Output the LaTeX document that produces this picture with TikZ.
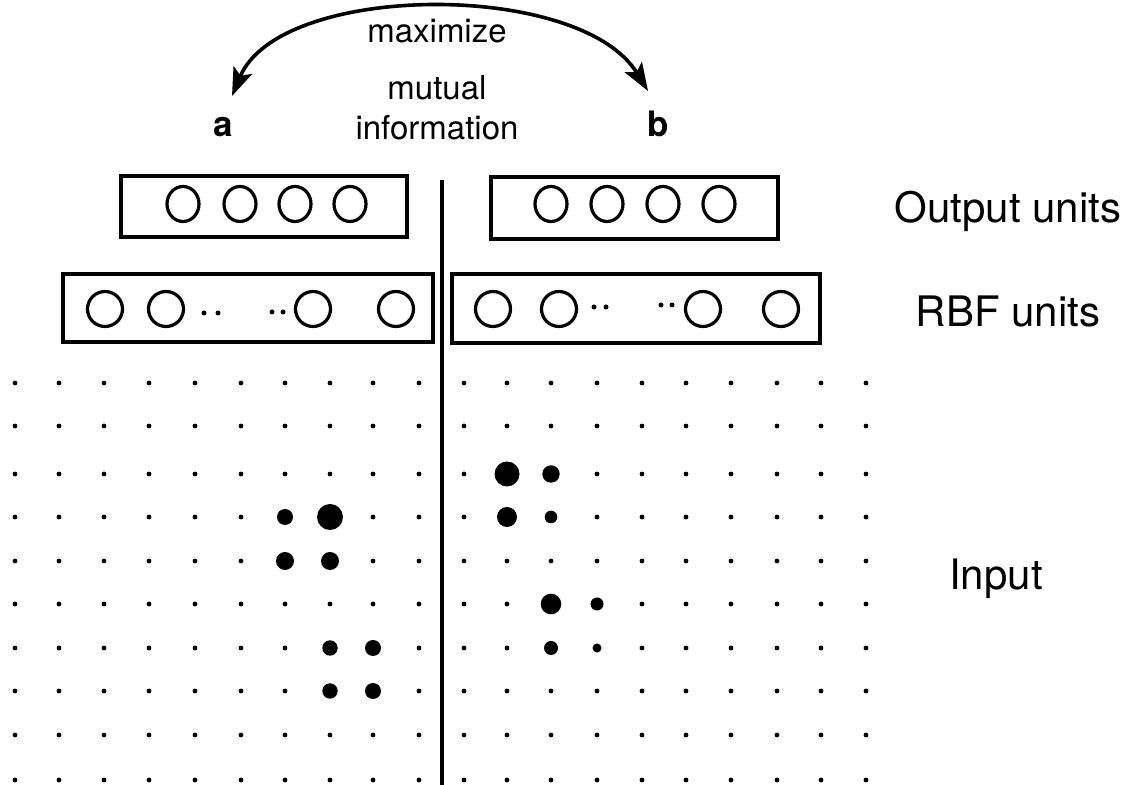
\documentclass[tikz,border=0pt]{standalone}
\usepackage{fontspec}
\setmainfont{TeX Gyre Heros}
\usetikzlibrary{arrows.meta,positioning}

\begin{document}
\begin{tikzpicture}[x=0.5pt,y=-0.5pt,
    box/.style={line width=1.9pt},
    unit/.style={line width=1.6pt},
    txt/.style={font=\fontsize{21}{25}\selectfont, anchor=base, inner sep=0pt},
    small/.style={font=\fontsize{16.5}{20}\selectfont, anchor=base, inner sep=0pt},
    side/.style={font=\fontsize{17.5}{21}\selectfont\bfseries, anchor=base, inner sep=0pt},
    mitip/.tip={Stealth[length=14pt,width=10pt,inset=3pt]}]
    \useasboundingbox (0,0) rectangle (1126,785);

    % Arc between the two halves
    \coordinate (tipA) at (232,96);
    \coordinate (tipB) at (648,91);
    \draw [line width=1.8pt, mitip-mitip] (tipA) .. controls (280,-18) and (580,-20) .. (tipB);
    \node[small] (maximize) at (437,43) {maximize};
    \node[small] (mutual) at (437,100) {mutual};
    \node[small] (info) at (437,140) {information};
    \node[side] (a) at (223,137) {a};
    \node[side] (b) at (658,137) {b};

    % Boxes
    \draw [box] (121,176) rectangle (407,237);
    \draw [box] (491,177) rectangle (778,239);
    \draw [box] (63,274) rectangle (433,342);
    \draw [box] (452,274) rectangle (820,343);

    % Output units
    \foreach \x in {183,240,295,350,551,607,663,719}
        \draw [unit] (\x,204) ellipse [x radius=16, y radius=17.5];

    % RBF units
    \foreach \x in {105,166,313,396,493,559,703,781}
        \draw [unit] (\x,309) circle [radius=17.5];
    \foreach \x/\y in {204/313,218/313,272/312,283/312,594/307,606/307,661/305,672/305}
        \fill (\x,\y) circle [radius=2.5];

    % Divider
    \draw [line width=1.6pt] (442,180) -- (442,785);

    % Input grid
    \foreach \x in {15,59,104,149,195,241,285,330,373,419,464,507,551,597,642,686,731,777,821,866}
        \foreach \y in {383,426,474,517,561,604,648,691,735,780}
            \fill (\x,\y) circle [radius=2.4];

    % Active inputs
    \foreach \x/\y/\r in {285/517/8, 330/517/13, 285/561/9, 330/561/9, 330/648/7.7, 373/648/8, 330/691/7.7, 373/691/8,
                          507/474/12.5, 551/474/8.7, 507/517/10, 551/517/6.3, 551/604/10.3, 597/604/6.5, 551/648/7, 597/648/4.5}
        \fill (\x,\y) circle [radius=\r];

    % Labels
    \node[txt] (output) at (1008,223) {Output units};
    \node[txt] (rbf) at (1008,327) {RBF units};
    \node[txt] (input) at (996,590) {Input};
\end{tikzpicture}
\end{document}
